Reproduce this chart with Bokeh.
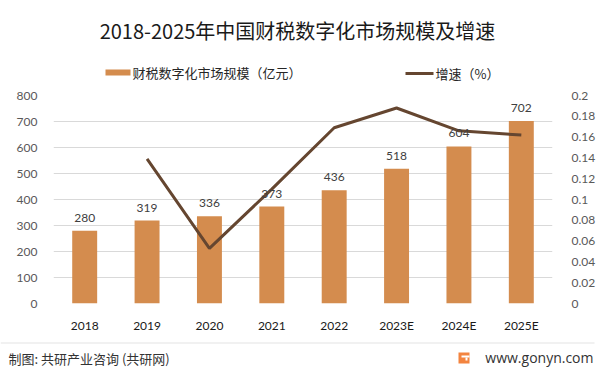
from bokeh.plotting import figure
from bokeh.layouts import column
from bokeh.models import (ColumnDataSource, Range1d, LinearAxis, FixedTicker,
                          CustomJSTickFormatter, LabelSet, FactorRange)
from bokeh.core.properties import value
from bokeh.embed import file_html
from bokeh.resources import INLINE

years = ["2018", "2019", "2020", "2021", "2022", "2023E", "2024E", "2025E"]
scale = [280, 319, 336, 373, 436, 518, 604, 702]
growth_years = ["2019", "2020", "2021", "2022", "2023E", "2024E", "2025E"]
growth = [0.139, 0.053, 0.110, 0.169, 0.188, 0.166, 0.162]
left_ticks = [0, 100, 200, 300, 400, 500, 600, 700, 800]
right_ticks = [0, 0.02, 0.04, 0.06, 0.08, 0.1, 0.12, 0.14, 0.16, 0.18, 0.2]

title_text = "2018-2025年中国财税数字化市场规模及增速"
legend_bar = "财税数字化市场规模（亿元）"
legend_line = "增速（%）"
footer_left = "制图: 共研产业咨询 (共研网)"
footer_right = "www.gonyn.com"

BAR = "#D48C4E"
LINE = "#654630"
CJK = "Noto Sans CJK SC"
NUM = "Lato"
W = 600
TOP_H = 86
FOOT_Y = 335
H = 372


def blank(h, y0, y1):
    f = figure(width=W, height=h, x_range=Range1d(0, W), y_range=Range1d(y1, y0),
               output_backend="svg", toolbar_location=None,
               x_axis_location=None, y_axis_location=None, frame_align=False,
               min_border_left=0, min_border_right=0, min_border_top=0, min_border_bottom=0)
    f.grid.visible = False
    f.outline_line_color = None
    f.background_fill_color = "white"
    f.border_fill_color = "white"
    return f


# ---------- header: title + legend ----------
top = blank(TOP_H, 0, TOP_H)
top.text(x=[297], y=[30], text=[title_text], text_align="center", text_baseline="middle",
         text_font=value(CJK), text_font_size="20px", text_color="#1a1a1a")
top.quad(left=[105], right=[130], top=[69], bottom=[75], fill_color=BAR, line_color=None)
top.text(x=[132], y=[72], text=[legend_bar], text_align="left", text_baseline="middle",
         text_font=value(CJK), text_font_size="13px", text_color="#262626")
top.line(x=[405, 433], y=[73, 73], line_color=LINE, line_width=3)
top.text(x=[435], y=[73], text=[legend_line], text_align="left", text_baseline="middle",
         text_font=value(CJK), text_font_size="13px", text_color="#262626")

# ---------- chart ----------
p = figure(width=W, height=FOOT_Y - TOP_H, x_range=FactorRange(*years), y_range=Range1d(0, 800),
           output_backend="svg", toolbar_location=None, frame_align=False,
           min_border_left=53, min_border_right=48, min_border_top=95 - TOP_H,
           min_border_bottom=FOOT_Y - 305)
p.extra_y_ranges = {"r": Range1d(0, 0.2)}
p.outline_line_color = None
p.background_fill_color = "white"
p.border_fill_color = "white"

src = ColumnDataSource(dict(year=years, val=scale, lbl=[str(v) for v in scale]))
p.vbar(x="year", top="val", width=0.4, source=src, fill_color=BAR, line_color=None)
p.line(x=growth_years, y=growth, y_range_name="r", line_color=LINE, line_width=3)

p.add_layout(LabelSet(x="year", y="val", text="lbl", source=src, y_offset=13,
                      text_align="center", text_baseline="middle",
                      text_font=value(NUM), text_font_size="12px", text_color="#404040"))

p.xgrid.grid_line_color = None
p.ygrid.ticker = FixedTicker(ticks=left_ticks)
p.ygrid.grid_line_color = "#D9D9D9"

yl = p.yaxis[0]
yl.ticker = FixedTicker(ticks=left_ticks)
yr = LinearAxis(y_range_name="r", ticker=FixedTicker(ticks=right_ticks),
                formatter=CustomJSTickFormatter(code="return String(Math.round(tick*100)/100);"))
p.add_layout(yr, "right")
for ax, so in ((yl, 10), (yr, 13)):
    ax.axis_line_color = None
    ax.major_tick_line_color = None
    ax.minor_tick_line_color = None
    ax.major_label_text_color = "#595959"
    ax.major_label_text_font = NUM
    ax.major_label_text_font_size = "12px"
    ax.major_label_standoff = so
xa = p.xaxis[0]
xa.axis_line_color = None
xa.major_tick_line_color = None
xa.major_label_text_color = "#1a1a1a"
xa.major_label_text_font = NUM
xa.major_label_text_font_size = "12px"
xa.major_label_standoff = 8

# ---------- footer ----------
foot = blank(H - FOOT_Y, FOOT_Y, H)
foot.line(x=[0, 594], y=[342.5, 342.5], line_color="#E3E3E3", line_width=1)
foot.text(x=[8], y=[358], text=[footer_left], text_align="left", text_baseline="middle",
          text_font=value(CJK), text_font_size="13px", text_color="#333333")
foot.quad(left=[458], right=[469], top=[352], bottom=[363], fill_color="#F3843F", line_color=None)
foot.quad(left=[461], right=[469], top=[355], bottom=[357], fill_color="white", line_color=None)
foot.quad(left=[465], right=[467], top=[357], bottom=[360], fill_color="white", line_color=None)
foot.text(x=[593], y=[357], text=[footer_right], text_align="right", text_baseline="middle",
          text_font=value("Open Sans"), text_font_size="14px", text_color="#333333")

layout = column(top, p, foot, spacing=0)
open("out.html", "w").write(file_html(layout, INLINE))
